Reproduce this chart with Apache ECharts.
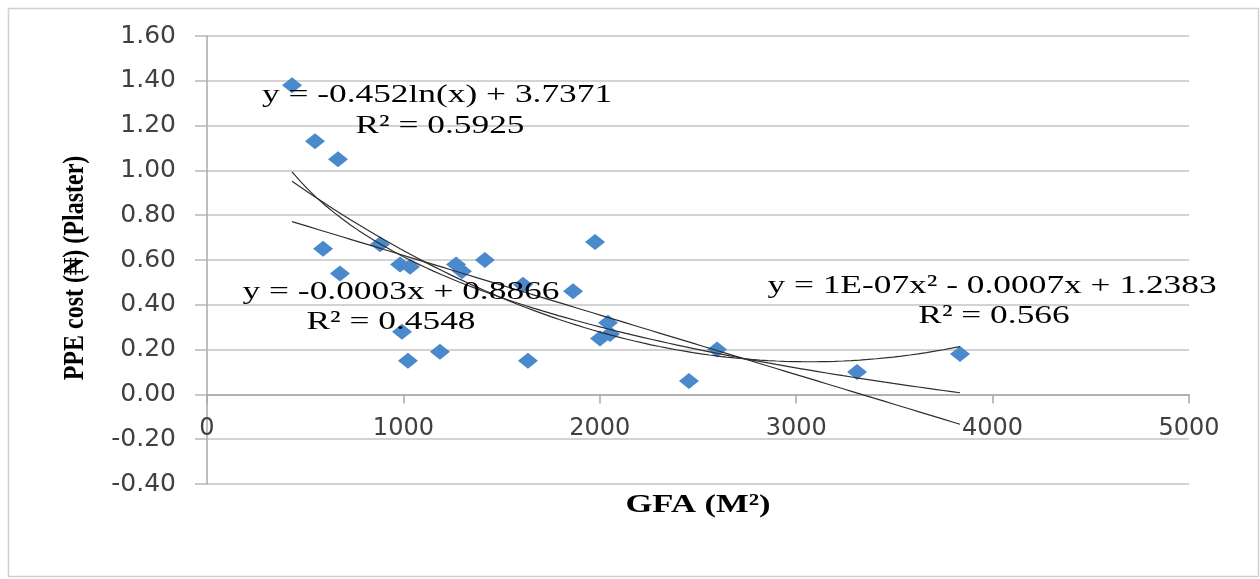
<!DOCTYPE html>
<html>
<head>
<meta charset="utf-8">
<script src="https://cdn.jsdelivr.net/npm/echarts@6/dist/echarts.min.js"></script>
<style>
  html, body { margin: 0; padding: 0; background: #fff; }
  #chart { width: 1260px; height: 579px; }
</style>
</head>
<body>
<div id="chart"></div>
<script>
// GFA (m2) vs PPE cost (plaster)
const gfa = [433, 550, 667, 591, 677, 881, 983, 1034, 993, 1023, 1186, 1268, 1298, 1415,
  1609, 1634, 1864, 1976, 2001, 2042, 2052, 2454, 2597, 3310, 3834];
const ppeCost = [1.38, 1.13, 1.05, 0.65, 0.54, 0.67, 0.58, 0.57, 0.28, 0.15, 0.19, 0.58, 0.55, 0.60,
  0.49, 0.15, 0.46, 0.68, 0.25, 0.32, 0.27, 0.06, 0.20, 0.10, 0.18];

// trendline coefficients (as drawn)
const linCoef = [0.8866, -0.000266];          // c + b*x
const logCoef = [3.7371, -0.452];             // c + b*ln(x)
const polyCoef = [1.2383, -0.000712, 1.16e-7]; // c + b*x + a*x^2

const xTicks = [0, 1000, 2000, 3000, 4000, 5000];
const yTicks = [-0.4, -0.2, 0, 0.2, 0.4, 0.6, 0.8, 1.0, 1.2, 1.4, 1.6];

const eqLabels = [
  ['y = -0.452ln(x) + 3.7371', 'R² = 0.5925'],
  ['y = -0.0003x + 0.8866', 'R² = 0.4548'],
  ['y = 1E-07x² - 0.0007x + 1.2383', 'R² = 0.566']
];

const xLo = Math.min(...gfa), xHi = Math.max(...gfa);
function trend(fn) {
  const out = [];
  for (let i = 0; i <= 80; i++) {
    const x = xLo + (xHi - xLo) * i / 80;
    out.push([x, fn(x)]);
  }
  return out;
}
const linLine = trend(x => linCoef[0] + linCoef[1] * x);
const logLine = trend(x => logCoef[0] + logCoef[1] * Math.log(x));
const polyLine = trend(x => polyCoef[0] + polyCoef[1] * x + polyCoef[2] * x * x);

const points = gfa.map((g, i) => [g, ppeCost[i]]);

const gridTop = 36, gridBottom = 95, chartH = 579;
const yMin = yTicks[0], yMax = yTicks[yTicks.length - 1];
// x axis sits on y = 0, so shift it up from the grid bottom
const plotH = chartH - gridTop - gridBottom;
const zeroOffset = -plotH * (0 - yMin) / (yMax - yMin);

const myChart = echarts.init(document.getElementById('chart'));

function eqText(str, x, y) {
  return {
    type: 'text', x: x, y: y, scaleX: 1.36, z: 100,
    style: {
      text: str, fill: '#000', fontSize: 26, fontFamily: 'Liberation Serif',
      textAlign: 'center', textVerticalAlign: 'middle'
    }
  };
}

const lineStyle = { color: '#2e2e2e', width: 1.2 };

const option = {
  animation: false,
  grid: { left: 207, right: 71, top: gridTop, bottom: gridBottom },
  xAxis: {
    type: 'value', min: xTicks[0], max: xTicks[xTicks.length - 1], interval: 1000,
    offset: zeroOffset,
    axisLine: { onZero: false, lineStyle: { color: '#a8a8a8', width: 1.5 } },
    axisTick: { show: true, length: 9, lineStyle: { color: '#a8a8a8', width: 1.5 } },
    axisLabel: {
      margin: 22, fontFamily: 'DejaVu Sans', fontSize: 24, color: '#404040',
      formatter: v => String(v)
    },
    splitLine: { show: false }
  },
  yAxis: {
    type: 'value', min: yMin, max: yMax, interval: 0.2,
    axisLine: { show: true, onZero: false, lineStyle: { color: '#a8a8a8', width: 1.5 } },
    axisTick: { show: true, length: 12, lineStyle: { color: '#b8b8b8', width: 1.5 } },
    axisLabel: {
      margin: 31, fontFamily: 'DejaVu Sans', fontSize: 25, color: '#404040',
      formatter: v => v.toFixed(2)
    },
    splitLine: { lineStyle: { color: '#c4c4c4', width: 1.5 } }
  },
  series: [
    {
      type: 'scatter', data: points, symbol: 'diamond', symbolSize: [20, 16],
      itemStyle: { color: '#4a89cc', opacity: 1 }, z: 2
    },
    { type: 'line', data: linLine, showSymbol: false, symbol: 'none', lineStyle: lineStyle, z: 3 },
    { type: 'line', data: logLine, showSymbol: false, symbol: 'none', lineStyle: lineStyle, z: 3 },
    { type: 'line', data: polyLine, showSymbol: false, symbol: 'none', lineStyle: lineStyle, z: 3 }
  ],
  graphic: [
    {
      type: 'rect', z: -1,
      shape: { x: 8.5, y: 8.5, width: 1250, height: 568 },
      style: { fill: 'none', stroke: '#d0d0d0', lineWidth: 1.5 }
    },
    eqText(eqLabels[0][0], 437, 95),
    eqText(eqLabels[0][1], 440, 126),
    eqText(eqLabels[1][0], 401, 292),
    eqText(eqLabels[1][1], 391, 322),
    eqText(eqLabels[2][0], 992, 286),
    eqText(eqLabels[2][1], 994, 316),
    {
      type: 'text', x: 698, y: 505, scaleX: 1.33, z: 100,
      style: {
        text: 'GFA (M²)', fill: '#000', fontSize: 26, fontWeight: 'bold',
        fontFamily: 'Liberation Serif', textAlign: 'center', textVerticalAlign: 'middle'
      }
    },
    {
      type: 'text', x: 76, y: 268, rotation: Math.PI / 2, scaleY: 1.2, z: 100,
      style: {
        text: 'PPE cost (₦) (Plaster)', fill: '#000', fontSize: 24, fontWeight: 'bold',
        fontFamily: 'Liberation Serif', textAlign: 'center', textVerticalAlign: 'middle'
      }
    }
  ]
};

myChart.setOption(option);
</script>
</body>
</html>
